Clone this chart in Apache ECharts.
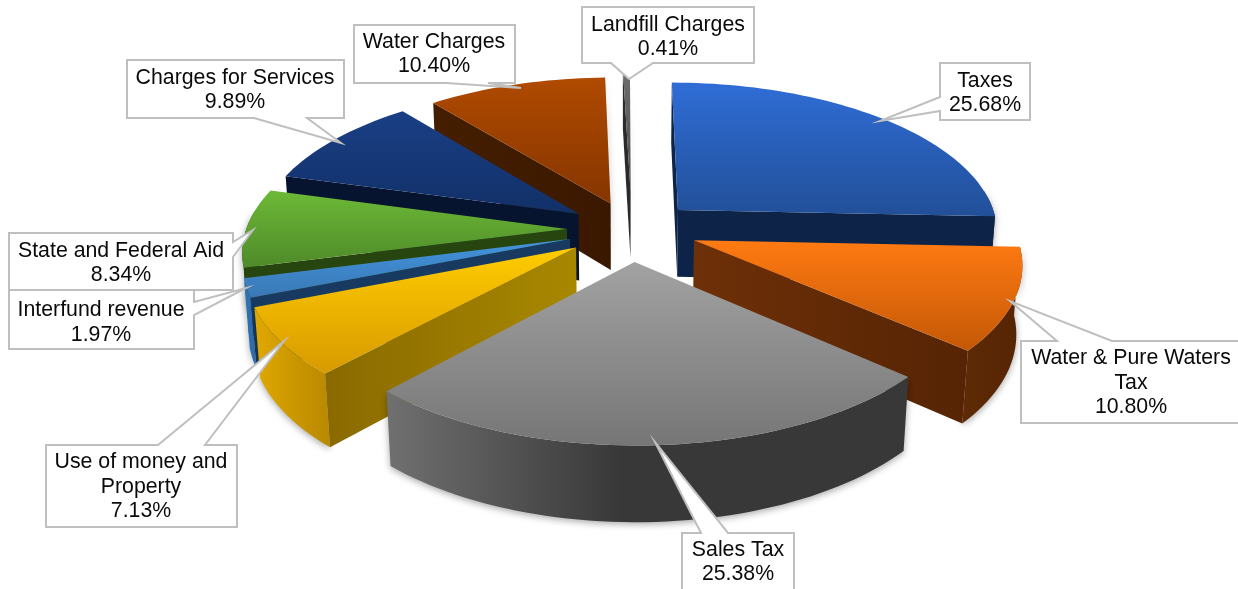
<!DOCTYPE html>
<html><head><meta charset="utf-8">
<style>html,body{margin:0;padding:0;background:#fff}#c{width:1238px;height:589px}</style>
<script src="https://cdn.jsdelivr.net/npm/echarts@6/dist/echarts.min.js"></script>
</head><body><div id="c"></div>
<script>
// ---- data
const categories = ['Taxes','Water & Pure Waters\nTax','Sales Tax','Use of money and\nProperty','Interfund revenue','State and Federal Aid','Charges for Services','Water Charges','Landfill Charges'];
const shares = [25.68,10.80,25.38,7.13,1.97,8.34,9.89,10.40,0.41];
// ---- per-slice explosion, in pie radii
const explodeX = [0.168,0.213,0.029,-0.150,-0.170,-0.181,-0.147,-0.046,0.018];
const explodeY = [0.136,-0.068,-0.208,-0.115,-0.059,0.007,0.111,0.181,0.259];
// ---- colours: top from/to, cut wall left/right, rim wall left/right
const topFrom = ['#2f6dd6','#ff7a12','#a2a2a2','#ffcc00','#4294de','#6cb936','#1a3f85','#b04a00','#6e6e6e'];
const topTo   = ['#224f98','#c45806','#767676','#d89a00','#3a78b4','#4f8a2a','#123068','#853500','#4a4a4a'];
const cutFrom = ['#0d2448','#6e3008','#3d3d3d','#8a6a00','#183a60','#27450f','#06142f','#451e00','#2a2a2a'];
const cutTo   = ['#0d2448','#562404','#3d3d3d','#a88800','#183a60','#27450f','#06142f','#3a1800','#2a2a2a'];
const rimFrom = ['#0d2448','#5e2a06','#707070','#e0a800','#2f70b0','#27450f','#06142f','#451e00','#2a2a2a'];
const rimTo   = ['#0d2448','#562404','#383838','#b88800','#2f70b0','#27450f','#06142f','#3a1800','#2a2a2a'];
const rimKnee = [1,1,0.45,1,1,1,1,1,1];
const drawOrder = [8,0,7,6,5,4,3,1,2];
// ---- callout layout: box [l,t,r,b], wedge [edge pt, tip, edge pt], text centre
const calloutBox = [[940,63,1030,120],[1021,341,1242,423],[682,533,794,600],[46,445,237,527],[9,290,194,349],[9,233,233,290],[127,60,344,118],[354,25,515,83],[582,7,754,63]];
const calloutWedge = [
 [[940,97],[880,121],[940,111]],
 [[1057,341],[1010,301],[1112,341]],
 [[701,533],[655,442],[728,533]],
 [[158,445],[284,341],[205,445]],
 [[194,302],[246,288],[194,315]],
 [[233,242],[253,230],[233,257]],
 [[254,118],[341,143],[307,118]],
 [[446,83],[521,88],[488,83]],
 [[611,63],[629,79],[653,63]]];
const calloutText = [[985,93],[1131,383],[738,562],[141,487],[101,322.5],[121,263],[235,90],[434,54],[668,37]];
// ---- projection
const cx=625, cy=230, f=321, S=149.5/321, K=0.134, D=0.214, W=0.015;
function proj(X,Y,low){const w=1+K*Y+(low?W:0);return [cx+f*X/w, cy-f*(S*Y-(low?D:0))/w];}
const toAngle=v=>echarts.number.linearMap(v,[0,100],[0,2*Math.PI]);
const cum=[];shares.reduce((a,v,i)=>{cum[i]=a;return a+v;},0);
function area(p){let s=0;p.forEach((q,i)=>{const n=p[(i+1)%p.length];s+=q[0]*n[1]-n[0]*q[1];});return s;}
const grad=(x,y2,stops)=>new echarts.graphic.LinearGradient(0,0,x,y2,stops);
const two=(a,b)=>[{offset:0,color:a},{offset:1,color:b}];

function renderSlice(params,api){
  const i=api.value(1), a0=toAngle(cum[i]), a1=toAngle(cum[i]+shares[i]);
  const ex=explodeX[i], ey=explodeY[i], ch=[];
  const rim=t=>[ex+Math.sin(t),ey+Math.cos(t)];
  const steps=Math.max(2,Math.ceil((a1-a0)/0.03)), top=[],low=[],ft=[],fl=[];
  for(let s=0;s<=steps;s++){
    const t=a0+(a1-a0)*s/steps,r=rim(t),pt=proj(r[0],r[1],false),pl=proj(r[0],r[1],true);
    top.push(pt);low.push(pl);
    if(Math.cos(t)<0.15){ft.push(pt);fl.push(pl);}
  }
  const at=proj(ex,ey,false), ab=proj(ex,ey,true);
  const startW=[at,top[0],low[0],ab], endW=[at,top[steps],low[steps],ab];
  const wall=pts=>({type:'polygon',shape:{points:pts},style:{fill:grad(1,0,two(cutFrom[i],cutTo[i]))}});
  const ghost=pts=>({type:'polygon',shape:{points:pts},style:{fill:'#c4c4c4',shadowBlur:6,shadowColor:'rgba(0,0,0,0.3)'}});
  if(area(startW)>=0&&Math.cos(a0)>0.95) ch.push(ghost(startW));
  if(area(endW)<=0&&Math.cos(a1)>0.95) ch.push(ghost(endW));
  if(ft.length>1){
    const stops=rimKnee[i]<1?[{offset:0,color:rimFrom[i]},{offset:rimKnee[i],color:rimTo[i]},{offset:1,color:rimTo[i]}]:two(rimFrom[i],rimTo[i]);
    ch.push({type:'polygon',shape:{points:ft.concat(fl.slice().reverse())},
      style:{fill:grad(1,0,stops),shadowBlur:7,shadowColor:'rgba(0,0,0,0.35)',shadowOffsetY:2}});
  }
  if(area(startW)<0) ch.push(wall(startW));
  if(area(endW)>0) ch.push(wall(endW));
  ch.push({type:'polygon',shape:{points:[at].concat(top)},style:{fill:grad(0,1,two(topFrom[i],topTo[i]))}});
  return {type:'group',children:ch};
}
function renderCallout(params,api){
  const i=api.value(0), b=calloutBox[i], wd=calloutWedge[i], tc=calloutText[i];
  const corners=[[b[0],b[1]],[b[2],b[1]],[b[2],b[3]],[b[0],b[3]]];
  const onEdge=(p,k)=>{const a=corners[k],c=corners[(k+1)%4];return (a[0]===c[0]&&p[0]===a[0])||(a[1]===c[1]&&p[1]===a[1]);};
  const pts=[];
  for(let k=0;k<4;k++){pts.push(corners[k]);
    if(onEdge(wd[0],k)){
      const a=corners[k],d=q=>Math.abs(q[0]-a[0])+Math.abs(q[1]-a[1]);
      const pair=d(wd[0])<d(wd[2])?[wd[0],wd[1],wd[2]]:[wd[2],wd[1],wd[0]];
      pts.push(...pair);
    }}
  const label=categories[i]+'\n'+shares[i].toFixed(2)+'%';
  return {type:'group',children:[
    {type:'polygon',shape:{points:pts},style:{fill:'#fff',stroke:'#bfbfbf',lineWidth:2,lineJoin:'miter'}},
    {type:'text',style:{text:label,x:tc[0],y:tc[1],align:'center',verticalAlign:'middle',fill:'#0a0a0a',
      fontFamily:'"Liberation Sans",Arial,sans-serif',fontSize:21.3,lineHeight:24.5}}
  ]};
}
const chart=echarts.init(document.getElementById('c'),null,{renderer:'canvas'});
chart.setOption({
  animation:false,backgroundColor:'#fff',
  series:[
    {type:'custom',coordinateSystem:'none',silent:true,z:1,renderItem:renderSlice,
      data:drawOrder.map(i=>[shares[i],i])},
    {type:'custom',coordinateSystem:'none',silent:true,z:2,renderItem:renderCallout,
      data:[4,5,0,1,2,3,6,7,8].map(i=>[i,shares[i]])}
  ]
});
</script></body></html>
